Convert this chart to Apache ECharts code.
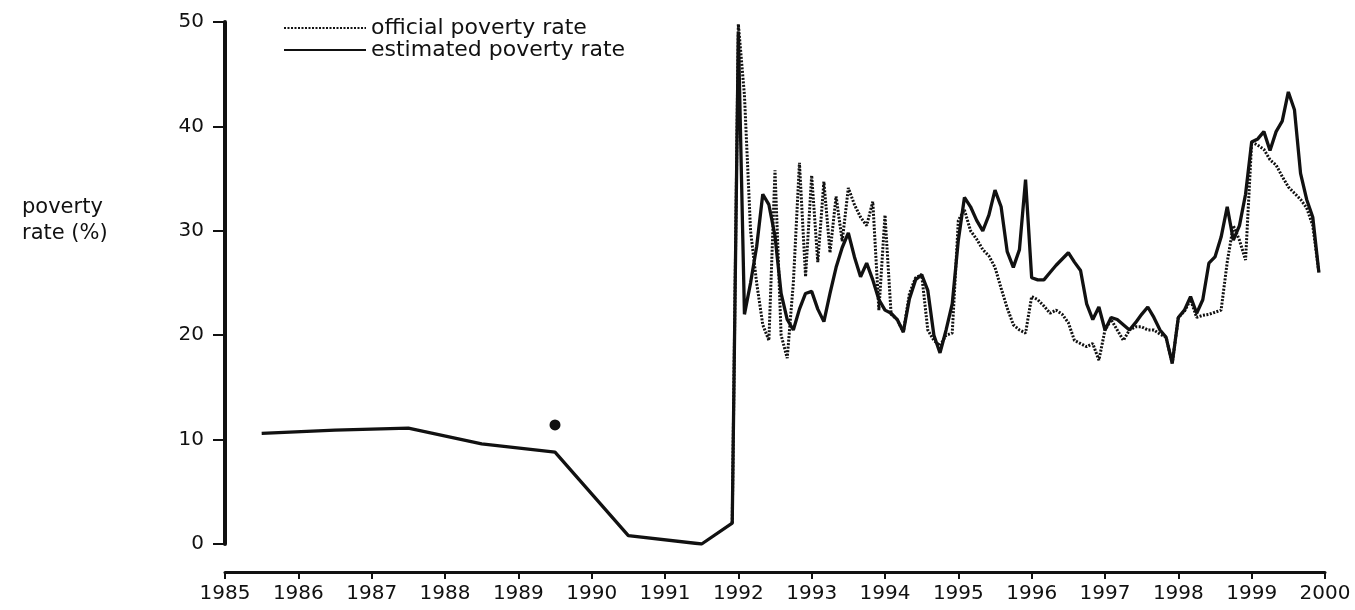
<!DOCTYPE html>
<html>
<head>
<meta charset="utf-8">
<script src="https://cdn.jsdelivr.net/npm/echarts@6/dist/echarts.min.js"></script>
<style>
html,body{margin:0;padding:0;background:#fff;}
#chart{width:1355px;height:610px;}
</style>
</head>
<body>
<div id="chart"></div>
<script>
// ---- data ----
const yearTicks = [1985, 1986, 1987, 1988, 1989, 1990, 1991, 1992, 1993, 1994, 1995, 1996, 1997, 1998, 1999, 2000];

// annual estimates before the monthly series (mid-year points)
const estAnnualYears  = [1985.5, 1986.5, 1987.5, 1988.5, 1989.5, 1990.5, 1991.5];
const estAnnualValues = [10.6, 10.9, 11.1, 9.6, 8.8, 0.8, 0.0];

// official rate single observation in 1989
const officialDotYear = 1989.5;
const officialDotValue = 11.4;

// monthly series, first month = December 1991
const monthlyStartYear = 1991;
const monthlyStartMonth = 11; // 0-based month index (December)

const estimatedMonthly = [
  2.0,
  49.0, 22.0, 25.0, 28.5, 33.5, 32.5, 29.5, 24.0, 21.5, 20.5, 22.5, 24.0,
  24.2, 22.5, 21.3, 24.0, 26.5, 28.4, 29.8, 27.5, 25.6, 26.9, 25.3, 23.4,
  22.4, 22.1, 21.5, 20.3, 23.5, 25.3, 25.8, 24.3, 20.0, 18.3, 20.5, 23.0,
  29.1, 33.2, 32.3, 31.0, 30.0, 31.5, 33.9, 32.3, 28.0, 26.5, 28.2, 34.9,
  25.5, 25.3, 25.3, 26.0, 26.7, 27.3, 27.9, 27.0, 26.2, 23.0, 21.5, 22.7,
  20.5, 21.7, 21.5, 21.0, 20.5, 21.2, 22.0, 22.7, 21.7, 20.5, 19.8, 17.3,
  21.7, 22.4, 23.7, 22.1, 23.4, 26.9, 27.5, 29.4, 32.3, 29.1, 30.5, 33.5,
  38.5, 38.8, 39.5, 37.7, 39.5, 40.5, 43.3, 41.6, 35.5, 33.0, 31.3, 26.0
];

const officialMonthly = [
  2.0,
  49.8, 43.0, 30.0, 25.0, 21.0, 19.5, 35.8, 20.0, 17.8, 25.0, 36.5, 25.6,
  35.3, 27.0, 34.7, 27.9, 33.3, 29.0, 34.1, 32.5, 31.3, 30.5, 32.8, 22.4,
  31.5, 22.0, 21.5, 20.3, 24.0, 25.5, 25.8, 20.5, 19.5, 19.0, 20.0, 20.2,
  31.0, 32.0, 30.0, 29.2, 28.2, 27.6, 26.5, 24.5, 22.6, 21.0, 20.5, 20.2,
  23.7, 23.4, 22.8, 22.1, 22.4, 22.0, 21.2, 19.5, 19.2, 18.9, 19.2, 17.6,
  20.5, 21.5, 20.5, 19.5, 20.5, 20.8, 20.8, 20.5, 20.5, 20.1, 19.8, 17.3,
  21.7, 22.3, 23.4, 21.7, 21.9, 22.0, 22.2, 22.4, 27.0, 30.5, 29.1, 27.2,
  38.5, 38.2, 37.8, 36.8, 36.3, 35.2, 34.2, 33.6, 33.0, 32.2, 30.5, 26.0
];

const legendNames = ['official poverty rate', 'estimated poverty rate'];
const yAxisTitle = 'poverty\nrate (%)';

// ---- build series data ----
function monthToYear(i) {
  return monthlyStartYear + (monthlyStartMonth + i) / 12;
}
const estimatedData = estAnnualYears.map((y, i) => [y, estAnnualValues[i]])
  .concat(estimatedMonthly.map((v, i) => [monthToYear(i), v]));
const officialData = officialMonthly.map((v, i) => [monthToYear(i), v]);

const FONT = 'DejaVu Sans';
const INK = '#111111';

const chart = echarts.init(document.getElementById('chart'));
chart.setOption({
  backgroundColor: '#ffffff',
  animation: false,
  title: {
    text: yAxisTitle,
    left: 17,
    top: 190,
    textStyle: { fontFamily: FONT, fontSize: 21, fontWeight: 'normal', color: INK, lineHeight: 26 }
  },
  legend: {
    data: legendNames,
    orient: 'vertical',
    left: 283,
    top: 17,
    padding: 0,
    itemWidth: 82,
    itemHeight: 12,
    itemGap: 0,
    itemStyle: { opacity: 0 },
    textStyle: { fontFamily: FONT, fontSize: 22, color: INK, lineHeight: 21 }
  },
  grid: { left: 225, right: 30, top: 22, bottom: 66, containLabel: false },
  xAxis: {
    type: 'value',
    min: 1985,
    max: 2000,
    interval: 1,
    offset: 28,
    axisLine: { show: true, onZero: false, lineStyle: { color: INK, width: 3 } },
    axisTick: { show: true, length: 7, inside: false, lineStyle: { color: INK, width: 2 } },
    axisLabel: { fontFamily: FONT, fontSize: 20, color: INK, margin: 12, formatter: v => String(v) },
    splitLine: { show: false }
  },
  yAxis: {
    type: 'value',
    min: 0,
    max: 50,
    interval: 10,
    axisLine: { show: true, onZero: false, lineStyle: { color: INK, width: 4 } },
    axisTick: { show: true, length: 12, inside: false, lineStyle: { color: INK, width: 2 } },
    axisLabel: { fontFamily: FONT, fontSize: 20, color: INK, margin: 21 },
    splitLine: { show: false }
  },
  series: [
    {
      name: 'official poverty rate',
      type: 'line',
      data: officialData,
      symbol: 'none',
      lineStyle: { color: INK, width: 3, type: [2, 1.5] },
      itemStyle: { color: INK },
      z: 2
    },
    {
      name: 'estimated poverty rate',
      type: 'line',
      data: estimatedData,
      symbol: 'none',
      lineStyle: { color: INK, width: 3.3 },
      itemStyle: { color: INK },
      z: 3
    },
    {
      name: 'official 1989',
      type: 'scatter',
      data: [[officialDotYear, officialDotValue]],
      symbol: 'circle',
      symbolSize: 11,
      itemStyle: { color: INK, opacity: 1 },
      z: 4
    }
  ]
});
</script>
</body>
</html>
